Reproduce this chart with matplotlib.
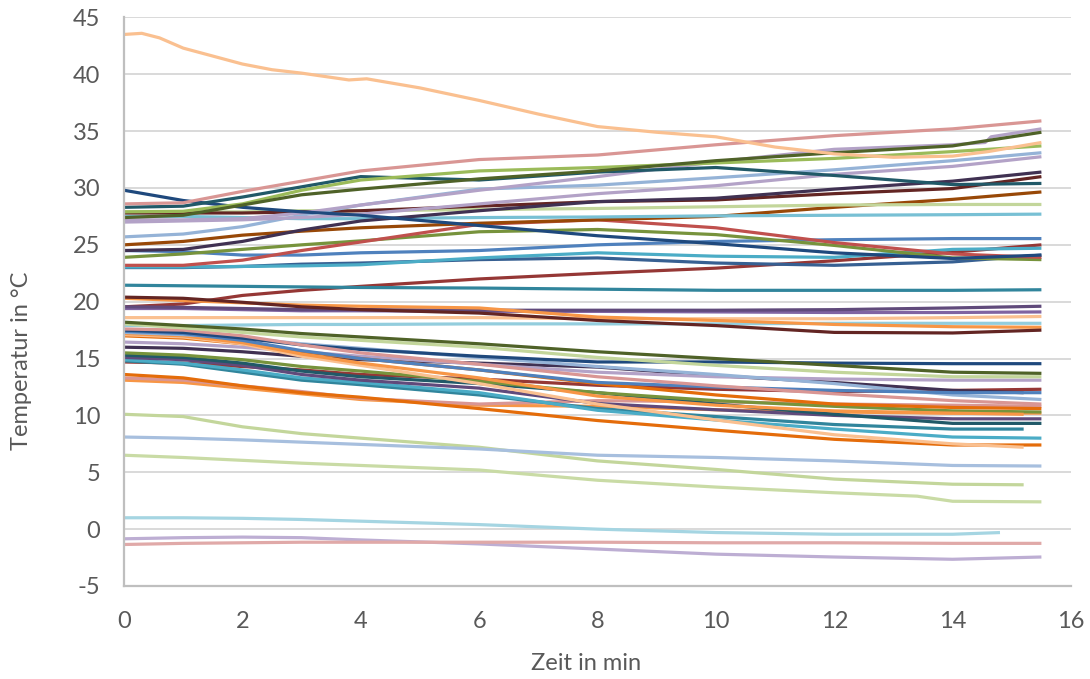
import matplotlib
matplotlib.use('Agg')
import matplotlib.pyplot as plt

plt.rcParams['font.family'] = ['Lato', 'DejaVu Sans']
plt.rcParams['axes.unicode_minus'] = False

# Messzeitpunkte (min)
zeit = [0, 1, 2, 3, 4, 6, 8, 10, 12, 14, 15.5]
zeit_kurz = [0, 1, 2, 3, 4, 6, 8, 10, 12, 14, 15.2]
zeit_pfirsich = [0, 0.3, 0.6, 1, 1.5, 2, 2.5, 3, 3.8, 4.1, 5, 6, 7, 8, 9,
                 10, 11, 12, 13, 14, 14.6, 15.5]
zeit_flieder = [0, 1, 2, 3, 4, 6, 8, 10, 12, 14, 14.55, 14.65, 15.5]
zeit_gruen_tief = [0, 1, 2, 3, 4, 6, 8, 10, 12, 13.4, 14, 15.5]
zeit_aqua_tief = [0, 1, 2, 3, 4, 6, 8, 10, 12, 14, 14.8]

# Temperaturverlaeufe (degC), obere Gruppe
pfirsich = [43.5, 43.6, 43.2, 42.3, 41.6, 40.9, 40.4, 40.1, 39.5, 39.6, 38.8,
            37.7, 36.5, 35.4, 34.9, 34.5, 33.6, 33.0, 32.7, 32.8, 33.2, 34.0]
rose = [28.6, 28.7, 29.7, 30.6, 31.5, 32.5, 32.9, 33.8, 34.6, 35.2, 35.9]
gruen = [27.9, 27.95, 28.6, 29.8, 30.7, 31.5, 31.8, 32.2, 32.6, 33.2, 33.7]
dunkelgruen = [27.4, 27.6, 28.5, 29.4, 29.9, 30.8, 31.5, 32.4, 33.1, 33.7, 34.9]
dunkeltuerkis = [28.3, 28.4, 29.2, 30.1, 31.0, 30.7, 31.4, 31.8, 31.1, 30.3, 30.4]
navy = [29.8, 28.9, 28.3, 27.9, 27.6, 26.7, 25.8, 25.1, 24.3, 23.8, 24.1]
flieder = [27.2, 27.2, 27.3, 27.8, 28.5, 29.8, 31.0, 32.3, 33.4, 33.8, 34.0,
           34.5, 35.2]
lila_hell = [27.0, 27.1, 27.2, 27.4, 27.7, 28.6, 29.5, 30.2, 31.2, 31.9, 32.75]
hellblau = [25.7, 25.95, 26.6, 27.6, 28.5, 29.9, 30.25, 30.9, 31.6, 32.4, 33.1]
dunkellila = [24.5, 24.6, 25.3, 26.3, 27.1, 28.0, 28.8, 29.1, 29.9, 30.6, 31.4]
dunkelrot = [27.8, 27.8, 27.8, 27.9, 28.0, 28.4, 28.8, 28.95, 29.5, 29.95, 31.0]
hellgruen = [27.9, 27.9, 27.9, 28.0, 28.0, 28.1, 28.2, 28.35, 28.5, 28.55, 28.55]
aqua_hell = [27.5, 27.5, 27.4, 27.3, 27.3, 27.4, 27.45, 27.55, 27.6, 27.65, 27.7]
braun = [25.0, 25.3, 25.85, 26.2, 26.5, 26.9, 27.2, 27.5, 28.3, 29.0, 29.65]
rot = [23.2, 23.2, 23.65, 24.5, 25.25, 26.8, 27.2, 26.5, 25.2, 24.2, 23.9]
oliv = [23.9, 24.2, 24.6, 25.0, 25.35, 26.15, 26.35, 25.9, 24.95, 23.85, 23.7]
blau = [24.5, 24.4, 24.1, 24.1, 24.3, 24.5, 25.0, 25.3, 25.45, 25.55, 25.55]
aqua = [23.05, 23.05, 23.1, 23.15, 23.25, 23.85, 24.3, 24.0, 23.9, 24.6, 24.7]
stahlblau = [23.0, 23.0, 23.1, 23.3, 23.4, 23.7, 23.85, 23.4, 23.2, 23.5, 24.1]
rotbraun = [19.55, 19.8, 20.55, 21.0, 21.35, 22.0, 22.5, 22.95, 23.6, 24.35, 25.0]
petrol = [21.45, 21.4, 21.35, 21.3, 21.25, 21.2, 21.1, 21.0, 21.0, 21.0, 21.05]

# mittlere Gruppe
weinrot = [20.4, 20.3, 19.95, 19.55, 19.3, 19.0, 18.35, 17.9, 17.3, 17.25, 17.5]
orange = [20.3, 20.1, 19.9, 19.7, 19.6, 19.45, 18.65, 18.35, 18.0, 17.8, 17.75]
pflaume = [19.55, 19.5, 19.4, 19.3, 19.3, 19.25, 19.25, 19.25, 19.3, 19.45, 19.6]
lila = [19.4, 19.4, 19.3, 19.2, 19.2, 19.15, 19.15, 19.1, 19.05, 19.05, 19.1]
apricot = [18.6, 18.6, 18.6, 18.6, 18.6, 18.6, 18.5, 18.5, 18.5, 18.6, 18.7]
eisblau = [17.9, 17.9, 17.95, 18.0, 18.0, 18.05, 18.05, 18.05, 18.1, 18.1, 18.1]
oliv_m = [18.2, 17.9, 17.6, 17.2, 16.9, 16.3, 15.6, 15.0, 14.4, 13.8, 13.7]
hellgruen_m = [18.05, 17.7, 17.3, 16.9, 16.6, 16.0, 15.1, 14.4, 13.8, 13.4, 13.4]
rose_m = [17.6, 17.5, 17.0, 16.2, 15.5, 14.5, 13.4, 12.6, 11.9, 11.3, 11.0]
navy_m = [17.5, 17.3, 16.8, 16.2, 15.8, 15.2, 14.7, 14.7, 14.6, 14.55, 14.55]
blau_m = [17.4, 17.2, 16.6, 15.7, 15.0, 14.0, 12.9, 12.5, 12.2, 12.0, 12.0]
hellblau_m = [17.3, 17.1, 16.8, 16.3, 15.9, 15.1, 14.3, 13.6, 12.8, 11.8, 11.4]
orange_m = [17.2, 17.0, 16.4, 15.4, 14.6, 13.3, 11.7, 10.9, 10.4, 10.2, 10.1]
apricot_m = [17.1, 16.9, 16.3, 15.2, 14.4, 12.8, 11.0, 9.6, 8.3, 7.5, 7.2]
kupfer_m = [17.0, 16.8, 16.3, 15.6, 15.0, 14.0, 12.8, 11.8, 11.0, 10.7, 10.6]
flieder_m = [16.45, 16.3, 16.0, 15.6, 15.2, 14.5, 13.8, 13.4, 13.2, 13.1, 13.1]
dunkellila_m = [16.0, 15.9, 15.6, 15.2, 14.9, 14.6, 14.25, 13.5, 12.9, 12.2, 12.0]
gruen_m = [15.5, 15.3, 14.9, 14.3, 13.9, 13.0, 12.0, 11.3, 10.8, 10.4, 10.3]
dunkeltuerkis_m = [15.3, 15.1, 14.6, 13.9, 13.4, 12.8, 12.0, 11.0, 10.1, 9.3, 9.3]
pflaume_m = [15.1, 14.9, 14.4, 13.6, 13.1, 12.4, 11.05, 10.5, 10.0, 9.7, 9.7]
aqua_m = [14.9, 14.6, 14.0, 13.3, 12.9, 12.0, 10.45, 9.6, 8.8, 8.1, 8.0]
petrol_m = [14.8, 14.5, 13.8, 13.1, 12.7, 11.8, 10.6, 9.9, 9.2, 8.8, 8.8]
rotbraun_m = [14.7, 14.6, 14.3, 14.0, 13.6, 13.2, 12.65, 12.3, 12.1, 12.2, 12.3]
kupfer_m2 = [13.6, 13.3, 12.6, 12.0, 11.6, 10.6, 9.55, 8.7, 7.9, 7.4, 7.4]
rose_m2 = [13.3, 13.1, 12.6, 12.1, 11.5, 11.0, 11.3, 11.2, 11.0, 10.9, 10.8]
orange_m2 = [13.1, 12.9, 12.4, 11.9, 11.4, 10.9, 10.8, 10.5, 10.3, 10.2, 10.2]

# untere Gruppe
hellgruen_u1 = [10.1, 9.9, 9.0, 8.4, 8.0, 7.2, 6.0, 5.25, 4.4, 3.95, 3.9]
hellblau_u = [8.1, 8.0, 7.85, 7.65, 7.45, 7.05, 6.5, 6.3, 6.0, 5.6, 5.55]
hellgruen_u2 = [6.5, 6.3, 6.05, 5.8, 5.6, 5.2, 4.3, 3.7, 3.2, 2.9, 2.45, 2.4]
eisblau_u = [1.0, 1.0, 0.95, 0.85, 0.7, 0.4, 0.0, -0.3, -0.45, -0.45, -0.3]
rose_u = [-1.35, -1.25, -1.2, -1.15, -1.15, -1.15, -1.15, -1.2, -1.2, -1.25, -1.25]
flieder_u = [-0.85, -0.75, -0.7, -0.75, -0.95, -1.3, -1.75, -2.2, -2.45, -2.65, -2.45]

reihen = [
    (zeit, rotbraun, '#953735'), (zeit, petrol, '#31859C'),
    (zeit, stahlblau, '#376092'), (zeit, aqua, '#4BACC6'),
    (zeit, blau, '#4F81BD'), (zeit, oliv, '#77933C'), (zeit, rot, '#C0504D'),
    (zeit, braun, '#984807'), (zeit, aqua_hell, '#78C0D4'),
    (zeit, hellgruen, '#C3D69B'), (zeit, dunkelrot, '#632523'),
    (zeit, dunkellila, '#403152'), (zeit, hellblau, '#95B3D7'),
    (zeit, lila_hell, '#B3A2C7'), (zeit_flieder, flieder, '#B3A2C7'),
    (zeit, navy, '#1F497D'), (zeit, dunkeltuerkis, '#215968'),
    (zeit, gruen, '#9BBB59'), (zeit, dunkelgruen, '#4F6228'),
    (zeit, rose, '#D99694'), (zeit_pfirsich, pfirsich, '#FAC090'),
    (zeit, eisblau, '#93CDDD'), (zeit, apricot, '#FAC090'),
    (zeit, lila, '#8064A2'), (zeit, pflaume, '#604A7B'),
    (zeit, orange, '#F79646'), (zeit, weinrot, '#632523'),
    (zeit, orange_m2, '#F79646'), (zeit, rose_m2, '#D99694'),
    (zeit, kupfer_m2, '#E46C0A'), (zeit, rotbraun_m, '#953735'),
    (zeit_kurz, petrol_m, '#31859C'), (zeit, aqua_m, '#4BACC6'),
    (zeit, pflaume_m, '#604A7B'), (zeit, dunkeltuerkis_m, '#215968'),
    (zeit, gruen_m, '#77933C'), (zeit_kurz, dunkellila_m, '#403152'),
    (zeit, flieder_m, '#B3A2C7'), (zeit, kupfer_m, '#E46C0A'),
    (zeit_kurz, apricot_m, '#FAC090'), (zeit_kurz, orange_m, '#F79646'),
    (zeit, hellblau_m, '#95B3D7'), (zeit, blau_m, '#4F81BD'),
    (zeit, navy_m, '#1F497D'), (zeit, rose_m, '#D99694'),
    (zeit, hellgruen_m, '#C3D69B'), (zeit, oliv_m, '#4F6228'),
    (zeit_kurz, hellgruen_u1, '#C3D69B'), (zeit, hellblau_u, '#A7BFDE'),
    (zeit_gruen_tief, hellgruen_u2, '#C9DBA5'),
    (zeit_aqua_tief, eisblau_u, '#A5D5E2'),
    (zeit, flieder_u, '#BDAED3'), (zeit, rose_u, '#E0A9A8'),
]

fig = plt.figure(figsize=(10.9, 6.79), dpi=100)
ax = fig.add_axes([124 / 1090, 1 - 586 / 679, 947 / 1090, 568.6 / 679])

for t, werte, farbe in reihen:
    ax.plot(t, werte, color=farbe, linewidth=2.3, solid_capstyle='butt')

ax.set_xlim(0, 16)
ax.set_ylim(-5, 45)
ax.set_xticks(range(0, 17, 2))
ax.set_yticks(range(-5, 46, 5))
ax.yaxis.grid(True, color='#D9D9D9', linewidth=1.4)
ax.set_axisbelow(True)

for s in ['top', 'right']:
    ax.spines[s].set_visible(False)
for s in ['left', 'bottom']:
    ax.spines[s].set_color('#BFBFBF')
    ax.spines[s].set_linewidth(1.6)

ax.tick_params(axis='both', length=0, labelsize=17, labelcolor='#595959')
ax.tick_params(axis='x', pad=18)
ax.tick_params(axis='y', pad=17)

fig.text(586 / 1090, 1 - 663 / 679, 'Zeit in min', ha='center', va='center',
         fontsize=17, color='#595959')
fig.text(22 / 1090, 1 - 361 / 679, 'Temperatur in °C', ha='center',
         va='center', rotation=90, fontsize=17, color='#595959')

fig.savefig('out.png', dpi=100)
